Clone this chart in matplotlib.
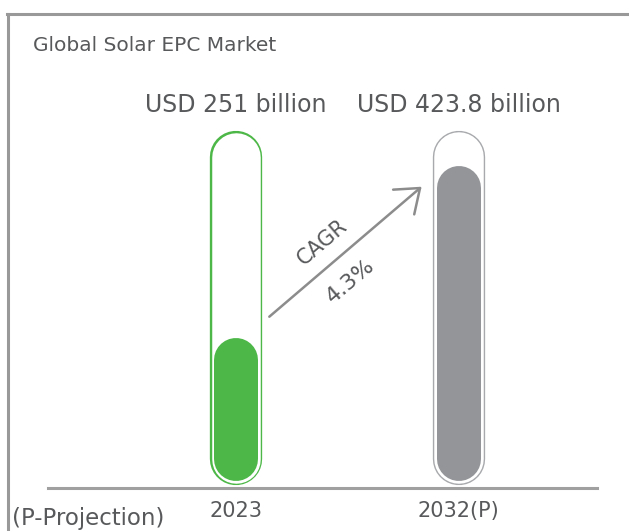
import numpy as np
import matplotlib
matplotlib.use("Agg")
import matplotlib.pyplot as plt
from matplotlib.lines import Line2D

# Data
years = ['2023', '2032(P)']
market_usd_bn = [251, 423.8]
fill_level = [0.42, 0.90]   # how full each tube is drawn (share of tube height)
cagr = '4.3%'

tube_edge = ['#4db848', '#a7a9ac']
tube_fill = ['#4db848', '#939598']
edge_px = [1.9, 1.4]
text_col = '#58595b'
line_col = '#a0a0a0'

W, H = 629, 531
fig = plt.figure(figsize=(W / 100, H / 100), dpi=100)

# axes placed so the baseline and tube tops sit where they are in the picture
ax_l, ax_r, ax_b, ax_t = 47.5, 597.3, 487.5, 130.5
ax = fig.add_axes([ax_l / W, (H - ax_b) / H, (ax_r - ax_l) / W, (ax_b - ax_t) / H])
px_x = 222.6           # pixels per category step
px_y = ax_b - ax_t     # pixels per tube height
ax.set_xlim(-(236.2 - ax_l) / px_x, 1 + (ax_r - 458.8) / px_x)
ax.set_ylim(0, 1)

pt = 72 / 100          # points per pixel
outer_px, inner_px = 52.3, 44.0
r_out = outer_px / 2
r_in = inner_px / 2
for i, (edge, fill, lvl) in enumerate(zip(tube_edge, tube_fill, fill_level)):
    # tube: thick round-capped line in edge colour, white core on top
    yb = (2.5 + r_out) / px_y
    yt = 1 - r_out / px_y
    ax.plot([i, i], [yb, yt], color=edge, lw=outer_px * pt,
            solid_capstyle='round', clip_on=False, zorder=2)
    ax.plot([i, i], [yb, yt], color='white', lw=(outer_px - 2 * edge_px[i]) * pt,
            solid_capstyle='round', clip_on=False, zorder=3)
    # level inside the tube
    ax.plot([i, i], [(6.5 + r_in) / px_y, lvl - r_in / px_y], color=fill,
            lw=inner_px * pt, solid_capstyle='round', clip_on=False, zorder=4)
    ax.text(i, 1.0527, f'USD {market_usd_bn[i]:g} billion', ha='center', va='baseline',
            fontsize=17, color=text_col, clip_on=False)

# CAGR arrow
start = (0.1487, 0.4784)
tip = (0.833, 0.8426)
ax.annotate('', xy=tip, xytext=start,
            arrowprops=dict(arrowstyle='->,head_length=15.5,head_width=11.7',
                            mutation_scale=1, color='#8c8c8c', lw=1.8,
                            shrinkA=0, shrinkB=0))
p0 = ax.transData.transform(start)
p1 = ax.transData.transform(tip)
ang = np.degrees(np.arctan2(p1[1] - p0[1], p1[0] - p0[0]))
ax.text(0.3868, 0.6868, 'CAGR', rotation=ang, rotation_mode='anchor',
        ha='center', va='center', fontsize=15, color=text_col)
ax.text(0.5144, 0.5793, cagr, rotation=ang, rotation_mode='anchor',
        ha='center', va='center', fontsize=16, color=text_col)

# axis styling
for s in ['top', 'right', 'left']:
    ax.spines[s].set_visible(False)
ax.spines['bottom'].set_color(line_col)
ax.spines['bottom'].set_linewidth(2.2)
ax.set_yticks([])
ax.set_xticks(range(len(years)))
ax.set_xticklabels(years, fontsize=15, color=text_col)
ax.tick_params(axis='x', length=0, pad=10)

# title and note
fig.text(32.7 / W, 1 - 50.7 / H, 'Global Solar EPC Market', fontsize=14.5,
         color=text_col, va='baseline', ha='left')
fig.text(12.0 / W, 1 - 525.5 / H, '(P-Projection)', fontsize=16.5,
         color=text_col, va='baseline', ha='left')

# frame lines (left and top)
fig.add_artist(Line2D([8.3 / W, 8.3 / W], [0, 1 - 14.3 / H], color='#999999', lw=2.2,
                      transform=fig.transFigure))
fig.add_artist(Line2D([8.3 / W - 0.0017, 1], [1 - 14.3 / H, 1 - 14.3 / H], color='#999999',
                      lw=2.2, transform=fig.transFigure))

fig.savefig('out.png', dpi=100)
